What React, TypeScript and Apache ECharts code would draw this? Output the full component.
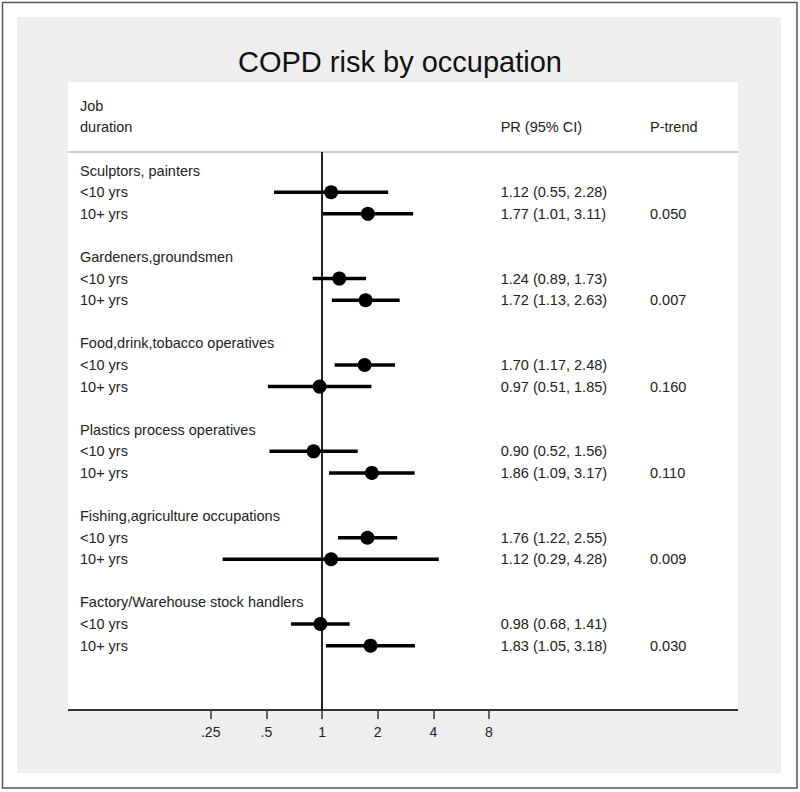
import React, { useEffect, useRef } from "react";
import * as echarts from "echarts";

const titleText = "COPD risk by occupation";
const headerLeft = ["Job", "duration"];
const headerPR = "PR (95% CI)";
const headerTrend = "P-trend";
const groups = [
  "Sculptors, painters",
  "Gardeners,groundsmen",
  "Food,drink,tobacco operatives",
  "Plastics process operatives",
  "Fishing,agriculture occupations",
  "Factory/Warehouse stock handlers",
];
const durations = ["<10 yrs", "10+ yrs"];
const prValues = [
  [1.12, 1.77],
  [1.24, 1.72],
  [1.7, 0.97],
  [0.9, 1.86],
  [1.76, 1.12],
  [0.98, 1.83],
];
const ciLower = [
  [0.55, 1.01],
  [0.89, 1.13],
  [1.17, 0.51],
  [0.52, 1.09],
  [1.22, 0.29],
  [0.68, 1.05],
];
const ciUpper = [
  [2.28, 3.11],
  [1.73, 2.63],
  [2.48, 1.85],
  [1.56, 3.17],
  [2.55, 4.28],
  [1.41, 3.18],
];
const pTrend = ["0.050", "0.007", "0.160", "0.110", "0.009", "0.030"];
const tickValues = [0.25, 0.5, 1, 2, 4, 8];
const tickLabels = [".25", ".5", "1", "2", "4", "8"];

// Build table rows
const rowLabels: string[] = [headerLeft[0], headerLeft[1], ""];
const prColumn: string[] = ["", headerPR, ""];
const trendColumn: string[] = ["", headerTrend, ""];
const ciData: number[][] = [];
groups.forEach((g, gi) => {
  rowLabels.push(g);
  prColumn.push("");
  trendColumn.push("");
  durations.forEach((d, di) => {
    const row = rowLabels.length;
    rowLabels.push(d);
    const pr = prValues[gi][di];
    const lo = ciLower[gi][di];
    const hi = ciUpper[gi][di];
    prColumn.push(`${pr.toFixed(2)} (${lo.toFixed(2)}, ${hi.toFixed(2)})`);
    trendColumn.push(di === durations.length - 1 ? pTrend[gi] : "");
    ciData.push([row, pr, lo, hi]);
  });
  if (gi < groups.length - 1) {
    rowLabels.push("");
    prColumn.push("");
    trendColumn.push("");
  }
});

const FONT = "'Liberation Sans', Arial, sans-serif";
const TEXT = "#222";

export default function App() {
  const ref = useRef<HTMLDivElement>(null);
  useEffect(() => {
    if (!ref.current) return;
    const chart = echarts.init(ref.current, undefined, { renderer: "svg" });
    const plotLeft = 210.7;
    const plotRight = 800 - 489;
    const rowH = 21.59;
    const rowsTop = 105.9 - rowH / 2;
    const rowsBottom = 792 - (rowsTop + rowLabels.length * rowH);
    const labelStyle = { fontFamily: FONT, fontSize: 14.5, color: TEXT };
    chart.setOption({
      animation: false,
      title: {
        text: titleText,
        left: "center",
        top: 42,
        textStyle: { fontFamily: FONT, fontSize: 29, fontWeight: "normal", color: "#111" },
      },
      graphic: [
        {
          type: "rect",
          z: -10,
          shape: { x: 2.5, y: 2.5, width: 794.5, height: 785.5 },
          style: { fill: "#fff", stroke: "#555", lineWidth: 1.5 },
          silent: true,
        },
        {
          type: "rect",
          z: -9,
          shape: { x: 17, y: 17, width: 764, height: 756 },
          style: { fill: "#eeeeee" },
          silent: true,
        },
        {
          type: "rect",
          z: -8,
          shape: { x: 68, y: 82, width: 670, height: 628 },
          style: { fill: "#fff" },
          silent: true,
        },
        {
          type: "line",
          z: -7,
          shape: { x1: 68, y1: 152, x2: 738, y2: 152 },
          style: { stroke: "#bbb", lineWidth: 1.5 },
          silent: true,
        },
        {
          type: "line",
          z: 5,
          shape: { x1: 68, y1: 710, x2: 738, y2: 710 },
          style: { stroke: "#333", lineWidth: 2 },
          silent: true,
        },
      ],
      grid: [
        { left: plotLeft, right: plotRight, top: rowsTop, bottom: rowsBottom },
        { left: plotLeft, right: plotRight, top: 152, bottom: 82 },
      ],
      xAxis: [
        { type: "log", logBase: 2, min: 0.25, max: 8, gridIndex: 0, show: false },
        {
          type: "log",
          logBase: 2,
          min: 0.25,
          max: 8,
          gridIndex: 1,
          axisLine: { show: false },
          splitLine: { show: false },
          axisTick: { show: true, length: 9, lineStyle: { color: "#333", width: 1.5 } },
          axisLabel: {
            ...labelStyle,
            fontSize: 14,
            margin: 15,
            formatter: (v: number) => {
              let best = 0;
              tickValues.forEach((t, i) => {
                if (Math.abs(t - v) < Math.abs(tickValues[best] - v)) best = i;
              });
              return tickLabels[best];
            },
          },
        },
      ],
      yAxis: [
        {
          type: "category",
          gridIndex: 0,
          inverse: true,
          data: rowLabels,
          axisLine: { show: false },
          axisTick: { show: false },
          axisLabel: { ...labelStyle, align: "left", margin: plotLeft - 80, interval: 0 },
        },
        {
          type: "category",
          gridIndex: 0,
          position: "right",
          inverse: true,
          data: prColumn,
          axisLine: { show: false },
          axisTick: { show: false },
          axisLabel: { ...labelStyle, align: "left", margin: 11.7, interval: 0 },
        },
        {
          type: "category",
          gridIndex: 0,
          position: "right",
          inverse: true,
          data: trendColumn,
          axisLine: { show: false },
          axisTick: { show: false },
          axisLabel: { ...labelStyle, align: "left", margin: 161, interval: 0 },
        },
        {
          type: "value",
          gridIndex: 1,
          min: 0,
          max: 1,
          show: false,
        },
      ],
      series: [
        {
          type: "line",
          xAxisIndex: 1,
          yAxisIndex: 3,
          data: [],
          silent: true,
          markLine: {
            silent: true,
            symbol: ["none", "none"],
            label: { show: false },
            lineStyle: { color: "#222", width: 2, type: "solid" },
            data: [{ xAxis: 1 }],
          },
        },
        {
          type: "custom",
          xAxisIndex: 0,
          yAxisIndex: 0,
          data: ciData,
          encode: { x: [1, 2, 3], y: 0 },
          z: 10,
          renderItem: (params: any, api: any) => {
            const y = api.value(0);
            const lo = api.coord([api.value(2), y]);
            const hi = api.coord([api.value(3), y]);
            const c = api.coord([api.value(1), y]);
            return {
              type: "group",
              children: [
                {
                  type: "line",
                  shape: { x1: lo[0], y1: lo[1], x2: hi[0], y2: hi[1] },
                  style: { stroke: "#000", lineWidth: 3.5 },
                },
                {
                  type: "circle",
                  shape: { cx: c[0], cy: c[1], r: 7 },
                  style: { fill: "#000" },
                },
              ],
            };
          },
        },
      ],
    });
    return () => chart.dispose();
  }, []);
  return (
    <div
      ref={ref}
      style={{ position: "absolute", left: 0, top: 0, width: 800, height: 792 }}
    />
  );
}
